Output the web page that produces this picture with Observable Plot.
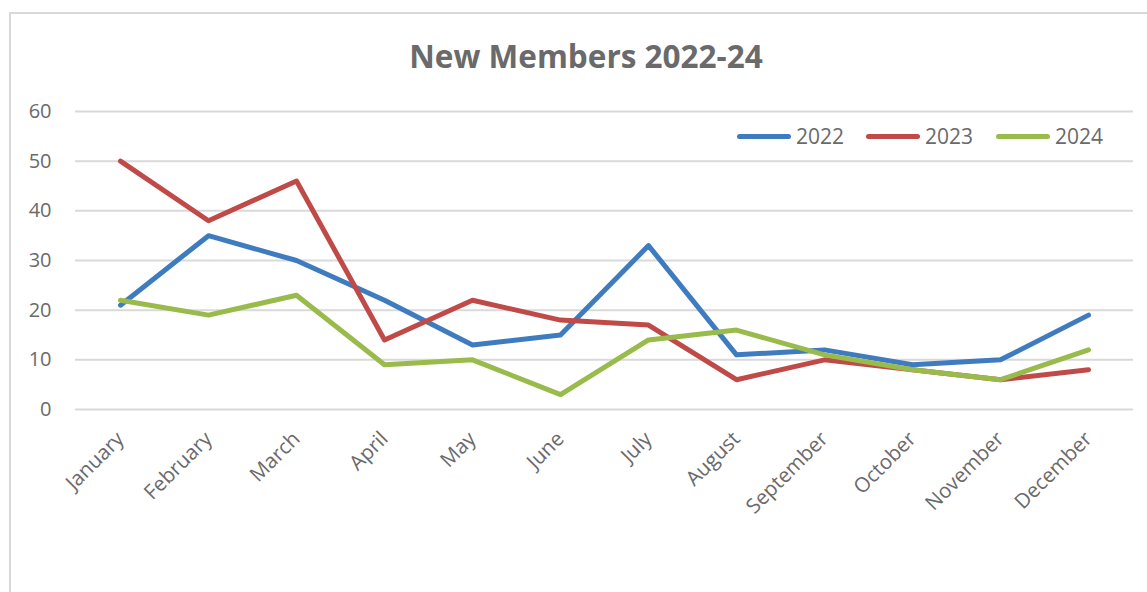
<!DOCTYPE html>
<html>
<head>
<meta charset="utf-8">
<script src="https://cdn.jsdelivr.net/npm/d3@7"></script>
<script src="https://cdn.jsdelivr.net/npm/@observablehq/plot@0.6"></script>
<style>
  html, body { margin: 0; padding: 0; background: #fff; }
  #wrap { position: relative; width: 1147px; height: 592px; overflow: hidden; font-family: "Open Sans", sans-serif; }
  #frame { position: absolute; left: 9px; top: 12px; width: 1160px; height: 620px; border: 2px solid #d9d9d9; box-sizing: border-box; }
  #title { position: absolute; left: 0; width: 1172px; top: 36px; text-align: center; font-size: 31.5px; font-weight: bold; color: #6a6a6a; line-height: 40px; }
  #chart { position: absolute; left: 0; top: 0; }
  #legend { position: absolute; top: 122px; left: 737px; font-size: 21px; color: #6a6a6a; }
  .item { position: absolute; top: 0; white-space: nowrap; display: flex; align-items: center; height: 28px; }
  .swatch { display: inline-block; width: 54px; height: 5px; border-radius: 3px; margin-right: 5px; }
</style>
</head>
<body>
<div id="wrap">
  <div id="frame"></div>
  <div id="chart"></div>
  <div id="title">New Members 2022-24</div>
  <div id="legend"></div>
</div>
<script>
const months = ["January","February","March","April","May","June","July","August","September","October","November","December"];
const series = ["2022","2023","2024"];
const v2022 = [21, 35, 30, 22, 13, 15, 33, 11, 12, 9, 10, 19];
const v2023 = [50, 38, 46, 14, 22, 18, 17, 6, 10, 8, 6, 8];
const v2024 = [22, 19, 23, 9, 10, 3, 14, 16, 11, 8, 6, 12];
const yTicks = [0, 10, 20, 30, 40, 50, 60];
const colors = ["#3f7bbf", "#bf4a47", "#99bb4b"];

const valuesBySeries = [v2022, v2023, v2024];
const data = [];
series.forEach((s, i) => months.forEach((m, j) => data.push({series: s, month: m, value: valuesBySeries[i][j]})));

const chart = Plot.plot({
  width: 1147,
  height: 592,
  marginLeft: 75,
  marginRight: 14,
  marginTop: 111,
  marginBottom: 183,
  style: {fontFamily: "Open Sans", fontSize: "20px", color: "#6a6a6a", background: "transparent"},
  x: {type: "point", domain: months, padding: 0.5},
  y: {domain: [0, 60]},
  color: {domain: series, range: colors},
  marks: [
    Plot.gridY(yTicks, {stroke: "#d9d9d9", strokeOpacity: 1, strokeWidth: 2}),
    Plot.axisY(yTicks, {tickSize: 0, tickPadding: 24, label: null, fill: "#6a6a6a", fontSize: 20}),
    Plot.axisX(months, {tickSize: 0, tickPadding: 26, tickRotate: -45, label: null, fill: "#6a6a6a", fontSize: 20.5}),
    Plot.line(data, {x: "month", y: "value", z: "series", stroke: "series", strokeWidth: 5, strokeLinejoin: "round", strokeLinecap: "round"})
  ]
});
document.getElementById("chart").appendChild(chart);

const legendOffsets = [0, 129, 259];
const legend = document.getElementById("legend");
series.forEach((s, i) => {
  const item = document.createElement("div");
  item.className = "item";
  item.style.left = legendOffsets[i] + "px";
  item.innerHTML = `<span class="swatch" style="background:${colors[i]}"></span><span>${s}</span>`;
  legend.appendChild(item);
});
</script>
</body>
</html>
